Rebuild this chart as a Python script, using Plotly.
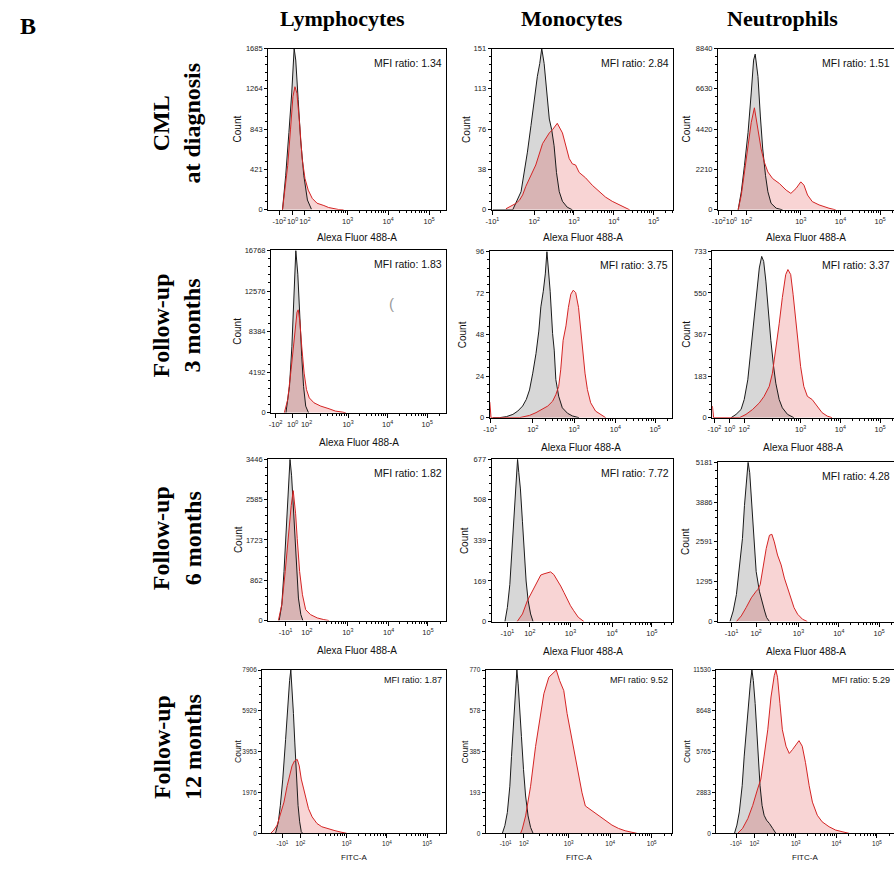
import plotly.graph_objects as go
import math

W, H = 894, 869

# ---------------- data (x in biexponential display units = decades, y = event counts) -------------
# Row 1: CML at diagnosis
lym_dx_ctrl_x = [1.38, 1.46, 1.54, 1.61, 1.67, 1.71, 1.77, 1.83, 1.91, 2.00, 2.10]
lym_dx_ctrl_y = [0, 361, 808, 1221, 1685, 1565, 1152, 739, 361, 103, 7]
lym_dx_test_x = [1.38, 1.44, 1.51, 1.58, 1.64, 1.69, 1.74, 1.81, 1.87, 1.94, 2.02, 2.12, 2.24, 2.41, 2.53, 2.78, 2.90]
lym_dx_test_y = [0, 189, 464, 843, 1183, 1286, 1217, 877, 533, 327, 206, 120, 69, 45, 24, 3, 0]

mono_dx_ctrl_x = [0.96, 1.46, 1.67, 1.75, 1.83, 1.92, 2.00, 2.08, 2.14, 2.19, 2.25, 2.31, 2.38, 2.44, 2.50, 2.56, 2.63, 2.71, 2.83, 2.96]
mono_dx_ctrl_y = [0, 0, 17, 35, 54, 79, 103, 125, 137, 151, 137, 112, 85, 75, 60, 35, 17, 8, 2.5, 0]
mono_dx_test_x = [1.29, 1.42, 1.54, 1.63, 1.71, 1.79, 1.88, 2.04, 2.21, 2.38, 2.46, 2.58, 2.71, 2.79, 2.88, 2.96, 3.04, 3.13, 3.29, 3.46, 3.63, 3.79, 3.96, 4.13, 4.29, 4.40]
mono_dx_test_y = [1, 4, 6, 9, 14, 22, 29, 42, 62, 72, 75, 81, 72, 60, 48, 43, 42, 35, 30, 23, 17, 12, 8, 5, 2, 0]

neu_dx_ctrl_x = [1.42, 1.50, 1.58, 1.67, 1.75, 1.81, 1.85, 1.92, 1.98, 2.04, 2.11, 2.17, 2.25, 2.38, 2.54]
neu_dx_ctrl_y = [0, 992, 2435, 4239, 6404, 8208, 8533, 7306, 5141, 3337, 1894, 992, 361, 90, 0]
neu_dx_test_x = [1.42, 1.50, 1.58, 1.67, 1.75, 1.83, 1.92, 2.00, 2.08, 2.17, 2.29, 2.46, 2.63, 2.75, 2.88, 3.00, 3.08, 3.17, 3.29, 3.46, 3.71, 3.88]
neu_dx_test_y = [0, 812, 2075, 3518, 4781, 5592, 4420, 3337, 2616, 2075, 1714, 1443, 1082, 902, 1172, 1533, 1353, 812, 451, 271, 90, 0]

# Row 2: follow-up 3 months
lym_3m_ctrl_x = [1.43, 1.52, 1.58, 1.64, 1.68, 1.73, 1.77, 1.83, 1.875, 1.93, 2.00]
lym_3m_ctrl_y = [0, 2726, 6816, 12269, 16768, 14315, 10224, 5794, 2726, 682, 0]
lym_3m_test_x = [1.39, 1.475, 1.56, 1.64, 1.71, 1.74, 1.78, 1.83, 1.89, 1.95, 2.02, 2.14, 2.31, 2.52, 2.68, 2.85, 2.94]
lym_3m_test_y = [0, 1363, 4430, 7838, 10394, 10633, 9542, 6816, 4090, 2386, 1534, 1022, 682, 409, 170, 68, 0]

mono_3m_ctrl_x = [1.00, 1.16, 1.33, 1.49, 1.61, 1.73, 1.82, 1.90, 1.98, 2.06, 2.13, 2.18, 2.24, 2.29, 2.33, 2.37, 2.41, 2.47, 2.51, 2.55, 2.62, 2.71, 2.84, 2.96, 3.12]
mono_3m_ctrl_y = [0, 0, 0.6, 1.9, 3.8, 6.7, 10.5, 16, 25.7, 37, 50, 64, 73, 83, 96, 85, 73, 48.5, 39, 22, 12.4, 5.7, 2.5, 1, 0]
mono_3m_test_x = [0.92, 0.95, 1.65, 1.90, 2.06, 2.22, 2.35, 2.47, 2.55, 2.62, 2.67, 2.73, 2.80, 2.86, 2.92, 2.98, 3.04, 3.11, 3.16, 3.22, 3.27, 3.33, 3.41, 3.53, 3.65, 3.78]
mono_3m_test_y = [9, 0, 0, 1.3, 2.9, 4.8, 6.7, 9.5, 13.3, 18, 27.6, 44.7, 53, 63.7, 71.3, 73.6, 72.2, 63.7, 50.4, 39, 25.7, 16.2, 8.6, 3.8, 1.9, 0]

neu_3m_ctrl_x = [1.25, 1.375, 1.50, 1.58, 1.67, 1.75, 1.83, 1.90, 1.96, 2.02, 2.07, 2.125, 2.19, 2.25, 2.32, 2.375, 2.46, 2.54, 2.67, 2.83]
neu_3m_ctrl_y = [0, 14.5, 36, 80, 167, 298, 428, 559, 660, 711, 689, 602, 457, 341, 225, 152, 80, 43.5, 14.5, 0]
neu_3m_test_x = [0.78, 0.81, 1.46, 1.625, 1.79, 1.96, 2.08, 2.21, 2.29, 2.375, 2.46, 2.54, 2.625, 2.68, 2.75, 2.81, 2.875, 2.94, 3.00, 3.08, 3.17, 3.29, 3.42, 3.54, 3.67, 3.79]
neu_3m_test_y = [51, 0, 0, 14.5, 36, 65, 94, 138, 196, 298, 414, 530, 631, 653, 631, 544, 428, 312, 225, 138, 94, 80, 51, 22, 7, 0]

# Row 3: follow-up 6 months
lym_6m_ctrl_x = [1.29, 1.355, 1.41, 1.47, 1.52, 1.56, 1.60, 1.64, 1.69, 1.73, 1.77, 1.83, 1.88]
lym_6m_ctrl_y = [0, 339, 1045, 2104, 3022, 3446, 3092, 2457, 1751, 1045, 480, 127, 0]
lym_6m_test_x = [1.27, 1.355, 1.44, 1.52, 1.59, 1.64, 1.68, 1.70, 1.74, 1.80, 1.87, 1.95, 2.07, 2.24, 2.40, 2.53]
lym_6m_test_y = [0, 339, 1045, 1892, 2457, 2775, 2457, 2280, 1751, 1045, 551, 233, 127, 56, 21, 0]

mono_6m_ctrl_x = [1.39, 1.45, 1.51, 1.57, 1.63, 1.67, 1.70, 1.73, 1.77, 1.82, 1.87, 1.91, 1.96, 2.02, 2.08]
mono_6m_ctrl_y = [0, 59, 155, 306, 457, 581, 677, 622, 553, 416, 279, 169, 86.5, 31.6, 0]
mono_6m_test_x = [1.69, 1.82, 1.94, 2.06, 2.18, 2.27, 2.35, 2.43, 2.51, 2.59, 2.67, 2.76, 2.84, 2.92, 3.00, 3.08, 3.19, 3.33]
mono_6m_test_y = [0, 31.6, 86.5, 128, 169, 194, 199, 203, 207, 196, 176, 148, 121, 93, 66, 45, 18, 0]

neu_6m_ctrl_x = [1.30, 1.38, 1.46, 1.54, 1.61, 1.66, 1.70, 1.75, 1.79, 1.83, 1.885, 1.95, 2.03, 2.10, 2.16, 2.21, 2.28]
neu_6m_ctrl_y = [0, 343, 878, 1841, 2698, 3768, 4517, 5181, 4839, 3982, 2698, 1627, 985, 610, 343, 128, 0]
neu_6m_test_x = [1.46, 1.58, 1.70, 1.83, 1.95, 1.99, 2.05, 2.11, 2.20, 2.28, 2.34, 2.40, 2.48, 2.57, 2.65, 2.73, 2.81, 2.89, 2.98, 3.10, 3.22]
neu_6m_test_y = [0, 182, 450, 771, 985, 1038, 1199, 1734, 2377, 2805, 2837, 2591, 2162, 1841, 1413, 1092, 771, 450, 236, 75, 0]

# Row 4: follow-up 12 months
lym_12m_ctrl_x = [1.23, 1.30, 1.35, 1.41, 1.48, 1.53, 1.58, 1.61, 1.64, 1.675, 1.71, 1.75, 1.79, 1.83, 1.87, 1.905]
lym_12m_ctrl_y = [0, 557, 1352, 2625, 4534, 6284, 7398, 7906, 7080, 5807, 4375, 2625, 1352, 557, 80, 0]
lym_12m_test_x = [1.11, 1.19, 1.27, 1.35, 1.44, 1.52, 1.58, 1.64, 1.70, 1.77, 1.82, 1.87, 1.93, 1.99, 2.05, 2.14, 2.26, 2.38, 2.55, 2.71, 2.88, 3.00]
lym_12m_test_y = [0, 159, 398, 875, 1511, 2307, 2784, 3262, 3500, 3580, 3262, 2625, 2148, 1671, 1193, 796, 477, 318, 207, 127, 48, 0]

mono_12m_ctrl_x = [1.40, 1.46, 1.52, 1.58, 1.62, 1.67, 1.72, 1.75, 1.78, 1.82, 1.86, 1.91, 1.96, 2.02, 2.08, 2.14]
mono_12m_ctrl_y = [0, 36, 98, 222, 362, 534, 689, 770, 705, 596, 456, 300, 176, 82, 28, 0]
mono_12m_test_x = [1.84, 1.88, 1.96, 2.08, 2.20, 2.32, 2.40, 2.52, 2.60, 2.70, 2.78, 2.88, 2.96, 3.08, 3.20, 3.32, 3.40, 3.56, 3.72, 3.88, 4.04, 4.20, 4.36, 4.52, 4.64]
mono_12m_test_y = [0, 20, 82, 222, 409, 549, 658, 736, 751, 770, 720, 673, 565, 440, 300, 191, 129, 106, 82, 59, 39, 23, 12, 5, 0]

neu_12m_ctrl_x = [1.49, 1.55, 1.61, 1.68, 1.73, 1.79, 1.84, 1.88, 1.92, 1.955, 2.00, 2.04, 2.08, 2.12, 2.17, 2.22, 2.28, 2.35, 2.43, 2.51]
neu_12m_ctrl_y = [0, 580, 1508, 3364, 5452, 7772, 9628, 10556, 11530, 10788, 9164, 7076, 4988, 3364, 1972, 1276, 928, 696, 348, 0]
neu_12m_test_x = [1.57, 1.69, 1.82, 1.94, 2.06, 2.14, 2.22, 2.31, 2.39, 2.47, 2.51, 2.55, 2.61, 2.67, 2.76, 2.84, 2.92, 3.00, 3.08, 3.16, 3.24, 3.33, 3.41, 3.53, 3.65, 3.82, 3.98, 4.14, 4.31]
neu_12m_test_y = [0, 348, 1044, 1972, 3132, 3828, 5452, 7308, 9628, 11136, 11530, 11020, 9164, 7308, 6148, 5638, 5916, 6264, 6542, 6148, 4988, 3364, 2204, 1276, 812, 464, 232, 116, 0]

# y-axis maxima and tick labels
y_max = [[1685, 151, 8840], [16768, 96, 733], [3446, 677, 5181], [7906, 770, 11530]]
y_ticktext = [
    [["0", "421", "843", "1264", "1685"], ["0", "38", "76", "113", "151"], ["0", "2210", "4420", "6630", "8840"]],
    [["0", "4192", "8384", "12576", "16768"], ["0", "24", "48", "72", "96"], ["0", "183", "367", "550", "733"]],
    [["0", "862", "1723", "2585", "3446"], ["0", "169", "339", "508", "677"], ["0", "1295", "2591", "3886", "5181"]],
    [["0", "1976", "3953", "5929", "7906"], ["0", "193", "385", "578", "770"], ["0", "2883", "5765", "8648", "11530"]],
]
mfi_ratio = [[1.34, 2.84, 1.51], [1.83, 3.75, 3.37], [1.82, 7.72, 4.28], [1.87, 9.52, 5.29]]

# x tick positions (display units) and labels
lab_A = ["-10<sup>2</sup>", "10<sup>0</sup>", "10<sup>2</sup>", "10<sup>3</sup>", "10<sup>4</sup>", "10<sup>5</sup>"]
lab_B = ["-10<sup>1</sup>", "10<sup>2</sup>", "10<sup>3</sup>", "10<sup>4</sup>", "10<sup>5</sup>"]
x_tickvals = [
    [[1.30, 1.63, 1.94, 3, 4.01, 5.03], [0.95, 2.0, 3, 4, 5], [0.93, 1.25, 1.63, 3, 4, 5]],
    [[1.17, 1.60, 1.95, 3, 4.0, 5.0], [0.93, 1.98, 3, 4.02, 5.0], [0.83, 1.21, 1.58, 3, 4, 5]],
    [[1.45, 1.98, 3, 4.02, 5.0], [1.45, 2.0, 3, 4.02, 5.0], [1.34, 1.95, 3, 4.0, 5.0]],
    [[1.40, 1.85, 3, 4.0, 5.0], [1.48, 1.92, 3, 4.0, 5.0], [1.53, 1.98, 3, 4.0, 5.0]],
]
x_ticktext = [
    [lab_A, lab_B, lab_A],
    [lab_A, lab_B, lab_A],
    [lab_B, lab_B, lab_B],
    [lab_B, lab_B, lab_B],
]
x_titles = ["Alexa Fluor 488-A", "Alexa Fluor 488-A", "Alexa Fluor 488-A", "FITC-A"]

cell_types = ["Lymphocytes", "Monocytes", "Neutrophils"]
time_points = ["CML<br>at diagnosis", "Follow-up<br>3 months", "Follow-up<br>6 months", "Follow-up<br>12 months"]

series = [
    [(lym_dx_ctrl_x, lym_dx_ctrl_y, lym_dx_test_x, lym_dx_test_y),
     (mono_dx_ctrl_x, mono_dx_ctrl_y, mono_dx_test_x, mono_dx_test_y),
     (neu_dx_ctrl_x, neu_dx_ctrl_y, neu_dx_test_x, neu_dx_test_y)],
    [(lym_3m_ctrl_x, lym_3m_ctrl_y, lym_3m_test_x, lym_3m_test_y),
     (mono_3m_ctrl_x, mono_3m_ctrl_y, mono_3m_test_x, mono_3m_test_y),
     (neu_3m_ctrl_x, neu_3m_ctrl_y, neu_3m_test_x, neu_3m_test_y)],
    [(lym_6m_ctrl_x, lym_6m_ctrl_y, lym_6m_test_x, lym_6m_test_y),
     (mono_6m_ctrl_x, mono_6m_ctrl_y, mono_6m_test_x, mono_6m_test_y),
     (neu_6m_ctrl_x, neu_6m_ctrl_y, neu_6m_test_x, neu_6m_test_y)],
    [(lym_12m_ctrl_x, lym_12m_ctrl_y, lym_12m_test_x, lym_12m_test_y),
     (mono_12m_ctrl_x, mono_12m_ctrl_y, mono_12m_test_x, mono_12m_test_y),
     (neu_12m_ctrl_x, neu_12m_ctrl_y, neu_12m_test_x, neu_12m_test_y)],
]

# ---------------- layout geometry (pixels) ----------------
dom_px = [
    [((264, 443), (45, 208)), ((489, 672), (45, 208)), ((717, 894), (45, 208))],
    [((267, 443), (249, 413)), ((487, 671), (250, 418)), ((711, 894), (250, 418))],
    [((264, 443), (460, 623)), ((489, 672), (460, 624)), ((717, 894), (463, 624))],
    [((258, 443), (673, 838)), ((483, 671), (673, 838)), ((715, 894), (673, 838))],
]
x_ranges = [
    [(1.025, 5.45), (0.933, 5.5), (0.917, 5.35)],
    [(1.058, 5.475), (0.918, 5.43), (0.775, 5.35)],
    [(1.017, 5.45), (1.065, 5.53), (1.008, 5.37)],
    [(0.90, 5.47), (1.0, 5.5), (1.04, 5.42)],
]
count_shift = [[-31, -26, -32], [-34, -27, -26], [-29, -27, -32], [-25, -21, -30]]


def px(x):
    return x / W


def py(y):
    return 1 - y / H


SANS = "Liberation Sans, Arial, sans-serif"
SERIF = "Liberation Serif, Times New Roman, serif"

GRAY_FILL = "rgba(150,150,150,0.38)"
RED_FILL = "rgba(225,60,60,0.22)"
BLACK = "#1a1a1a"
RED = "#d42424"

fig = go.Figure()
layout = {}
annotations = []

k = 0
for r in range(4):
    for c in range(3):
        k += 1
        xa = "x" if k == 1 else f"x{k}"
        ya = "y" if k == 1 else f"y{k}"
        xkey = "xaxis" if k == 1 else f"xaxis{k}"
        ykey = "yaxis" if k == 1 else f"yaxis{k}"
        cx, cy, tx, ty = series[r][c]
        (x0, x1), (y0, y1) = dom_px[r][c]
        ymax = y_max[r][c]
        small = (r == 3)
        tick_fs = 6.5 if small else 7.5

        fig.add_trace(go.Scatter(x=cx, y=cy, xaxis=xa, yaxis=ya, mode="lines",
                                 line=dict(width=0, color=BLACK), fill="tozeroy",
                                 fillcolor=GRAY_FILL, showlegend=False, hoverinfo="skip"))
        fig.add_trace(go.Scatter(x=tx, y=ty, xaxis=xa, yaxis=ya, mode="lines",
                                 line=dict(width=0, color=RED), fill="tozeroy",
                                 fillcolor=RED_FILL, showlegend=False, hoverinfo="skip"))
        fig.add_trace(go.Scatter(x=cx, y=cy, xaxis=xa, yaxis=ya, mode="lines",
                                 line=dict(width=1, color=BLACK), showlegend=False))
        fig.add_trace(go.Scatter(x=tx, y=ty, xaxis=xa, yaxis=ya, mode="lines",
                                 line=dict(width=1, color=RED), showlegend=False))

        lo, hi = x_ranges[r][c]
        minor_vals = [d + math.log10(m) for d in (2, 3, 4, 5) for m in range(2, 10)
                      if lo < d + math.log10(m) < hi]
        layout[xkey] = dict(
            domain=[px(x0), px(x1)], anchor=ya, range=[lo, hi],
            tickmode="array", tickvals=x_tickvals[r][c], ticktext=x_ticktext[r][c],
            tickangle=0,
            ticks="outside", ticklen=4, tickwidth=1, tickcolor="black",
            tickfont=dict(family=SANS, size=tick_fs, color="#222"),
            minor=dict(tickmode="array", tickvals=minor_vals, ticks="outside",
                       ticklen=2, tickwidth=1, tickcolor="black"),
            showline=True, linecolor="black", linewidth=1.3, mirror=True,
            showgrid=False, zeroline=False, fixedrange=True,
        )
        layout[ykey] = dict(
            domain=[py(y1), py(y0)], anchor=xa, range=[0, ymax],
            tickmode="array", tickvals=[ymax * i / 4 for i in range(5)],
            ticktext=y_ticktext[r][c], tickangle=0,
            ticks="outside", ticklen=3, tickwidth=1, tickcolor="black",
            tickfont=dict(family=SANS, size=tick_fs, color="#222"),
            minor=dict(tickmode="linear", tick0=0, dtick=ymax / 20, ticks="outside",
                       ticklen=2, tickwidth=1, tickcolor="black"),
            showline=True, linecolor="black", linewidth=1.3, mirror=(c != 2),
            showgrid=False, zeroline=False, fixedrange=True,
        )

        annotations.append(dict(
            text=f"MFI ratio: {mfi_ratio[r][c]:.2f}", xref=f"{xa} domain", yref=f"{ya} domain",
            x=1, y=1, xanchor="right", yanchor="middle", xshift=-2, yshift=(-10 if small else -14),
            showarrow=False, font=dict(family=SANS, size=(9 if small else 10.5), color="#111")))
        annotations.append(dict(
            text="Count", xref=f"{xa} domain", yref=f"{ya} domain", x=0, y=0.5,
            xanchor="center", yanchor="middle", xshift=count_shift[r][c], textangle=-90,
            showarrow=False, font=dict(family=SANS, size=(8.5 if small else 10), color="#111")))
        annotations.append(dict(
            text=x_titles[r], xref=f"{xa} domain", yref=f"{ya} domain", x=0.5, y=0,
            xanchor="center", yanchor="middle", yshift=(-24 if small else (-28 if r == 0 else -30)),
            showarrow=False, font=dict(family=SANS, size=(8 if small else 10), color="#111")))

header_x = [339, 570, 782]
for c, name in enumerate(cell_types):
    annotations.append(dict(text=f"<b>{name}</b>", xref="paper", yref="paper",
                            x=px(header_x[c]), y=py(15), xanchor="center", yanchor="middle",
                            showarrow=False, font=dict(family=SERIF, size=22, color="black")))
row_y = [120, 325, 540, 751]
for r, name in enumerate(time_points):
    annotations.append(dict(text=f"<b>{name}</b>", xref="paper", yref="paper",
                            x=px(172), y=py(row_y[r]), xanchor="center", yanchor="middle",
                            textangle=-90, showarrow=False,
                            font=dict(family=SERIF, size=24, color="black")))
annotations.append(dict(text="<b>B</b>", xref="paper", yref="paper", x=px(22), y=py(22),
                        xanchor="center", yanchor="middle", showarrow=False,
                        font=dict(family=SERIF, size=24, color="black")))
# faint pen mark seen in the 3-month lymphocyte panel
annotations.append(dict(text="(", xref="paper", yref="paper", x=px(388), y=py(303),
                        xanchor="center", yanchor="middle", showarrow=False,
                        font=dict(family=SANS, size=15, color="#9a9a9a")))

fig.update_layout(
    width=W, height=H, margin=dict(l=0, r=0, t=0, b=0),
    paper_bgcolor="white", plot_bgcolor="white", showlegend=False,
    annotations=annotations, **layout,
)

fig.write_html("out.html", config={"displayModeBar": False},
               post_script="document.body.style.margin='0px';document.body.style.overflow='hidden';")
